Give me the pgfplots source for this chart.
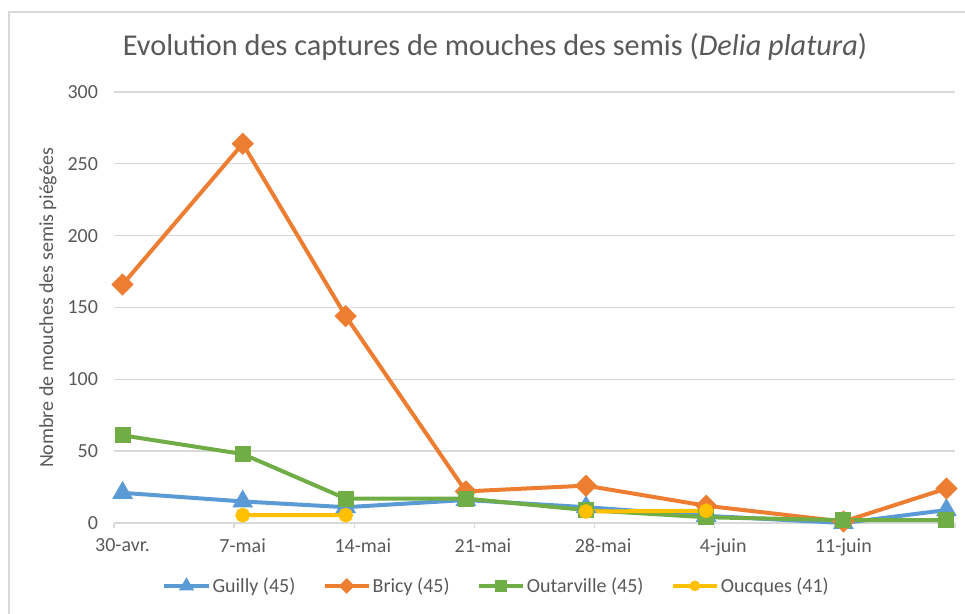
\documentclass[border=0pt]{standalone}
\usepackage{pgfplots}
\pgfplotsset{compat=1.18}
\usepackage{fontspec}
\setmainfont{Carlito}
\definecolor{cBlue}{HTML}{5B9BD5}
\definecolor{cOrange}{HTML}{ED7D31}
\definecolor{cGreen}{HTML}{70AD47}
\definecolor{cYellow}{HTML}{FFC000}
\definecolor{cText}{HTML}{595959}
\definecolor{cGrid}{HTML}{D9D9D9}
\begin{document}
\begin{tikzpicture}[x=0.75pt,y=0.75pt]
\path[use as bounding box] (0,0) rectangle (965,614);
\draw[cGrid,line width=1pt] (9,0) -- (9,602) -- (965,602);
\node[text=cText,font=\fontsize{22.7}{27}\selectfont] at (495,567) {Evolution des captures de mouches des semis (\textit{Delia platura})};
\node[text=cText,font=\fontsize{15}{18}\selectfont,rotate=90] at (48,306) {Nombre de mouches des semis piégées};
\begin{axis}[
  at={(85.5pt,68.25pt)}, anchor=origin,
  scale only axis, width=630.75pt, height=323.25pt,
  xmin=0, xmax=49, ymin=0, ymax=300,
  axis x line*=bottom, axis y line*=left,
  x axis line style={cGrid,line width=1.2pt,-},
  y axis line style={draw=none},
  ytick={0,50,...,300},
  ytick style={draw=none},
  yticklabel style={text=cText,font=\fontsize{15}{18}\selectfont,xshift=-4.5pt},
  ymajorgrids, grid style={cGrid,line width=1pt},
  xtick={0,7,...,49},
  xticklabels={30-avr.,7-mai,14-mai,21-mai,28-mai,4-juin,11-juin,{}},
  xticklabel style={xshift=6.4pt,yshift=-4pt,text=cText,font=\fontsize{15}{18}\selectfont},
  xtick style={cGrid,line width=1pt},
  tick align=outside, major tick length=4pt,
  /pgf/number format/assume math mode=true,
  unbounded coords=jump,
  clip=false,
  legend columns=4,
  legend style={draw=none,fill=none,at={(0.455,-0.146)},anchor=center,
    font=\fontsize{15}{18}\selectfont,text=cText,
    nodes={inner xsep=1.5pt},
    /tikz/every even column/.append style={column sep=19pt}},
  legend cell align=left,
  legend image code/.code={\draw[line width=3pt,mark repeat=2,mark phase=2,every mark/.append style={scale=0.6}] plot coordinates {(0cm,0cm)(0.58cm,0cm)(1.16cm,0cm)};},
]
\addplot[cBlue,line width=3pt,mark=triangle*,mark size=6pt,mark options={solid}] coordinates {
(0.5,21)(7.5,15)(13.5,11)(20.5,16)(27.5,11)(34.5,5)(42.5,0)(48.5,9)};
\addlegendentry{Guilly (45)}
\addplot[cOrange,line width=3pt,mark=square*,mark size=4.4pt,mark options={solid,rotate=45}] coordinates {
(0.5,166)(7.5,264)(13.5,144)(20.5,22)(27.5,26)(34.5,12)(42.5,1)(48.5,24)};
\addlegendentry{Bricy (45)}
\addplot[cGreen,line width=3pt,mark=square*,mark size=4.5pt,mark options={solid}] coordinates {
(0.5,61)(7.5,48)(13.5,17)(20.5,17)(27.5,9)(34.5,4)(42.5,2)(48.5,2)};
\addlegendentry{Outarville (45)}
\addplot[cYellow,line width=3pt,mark=*,mark size=4pt,mark options={solid}] coordinates {
(7.5,5.5)(13.5,5.5)(20.5,nan)(27.5,8)(34.5,8.5)};
\addlegendentry{Oucques (41)}
\end{axis}
\end{tikzpicture}
\end{document}
